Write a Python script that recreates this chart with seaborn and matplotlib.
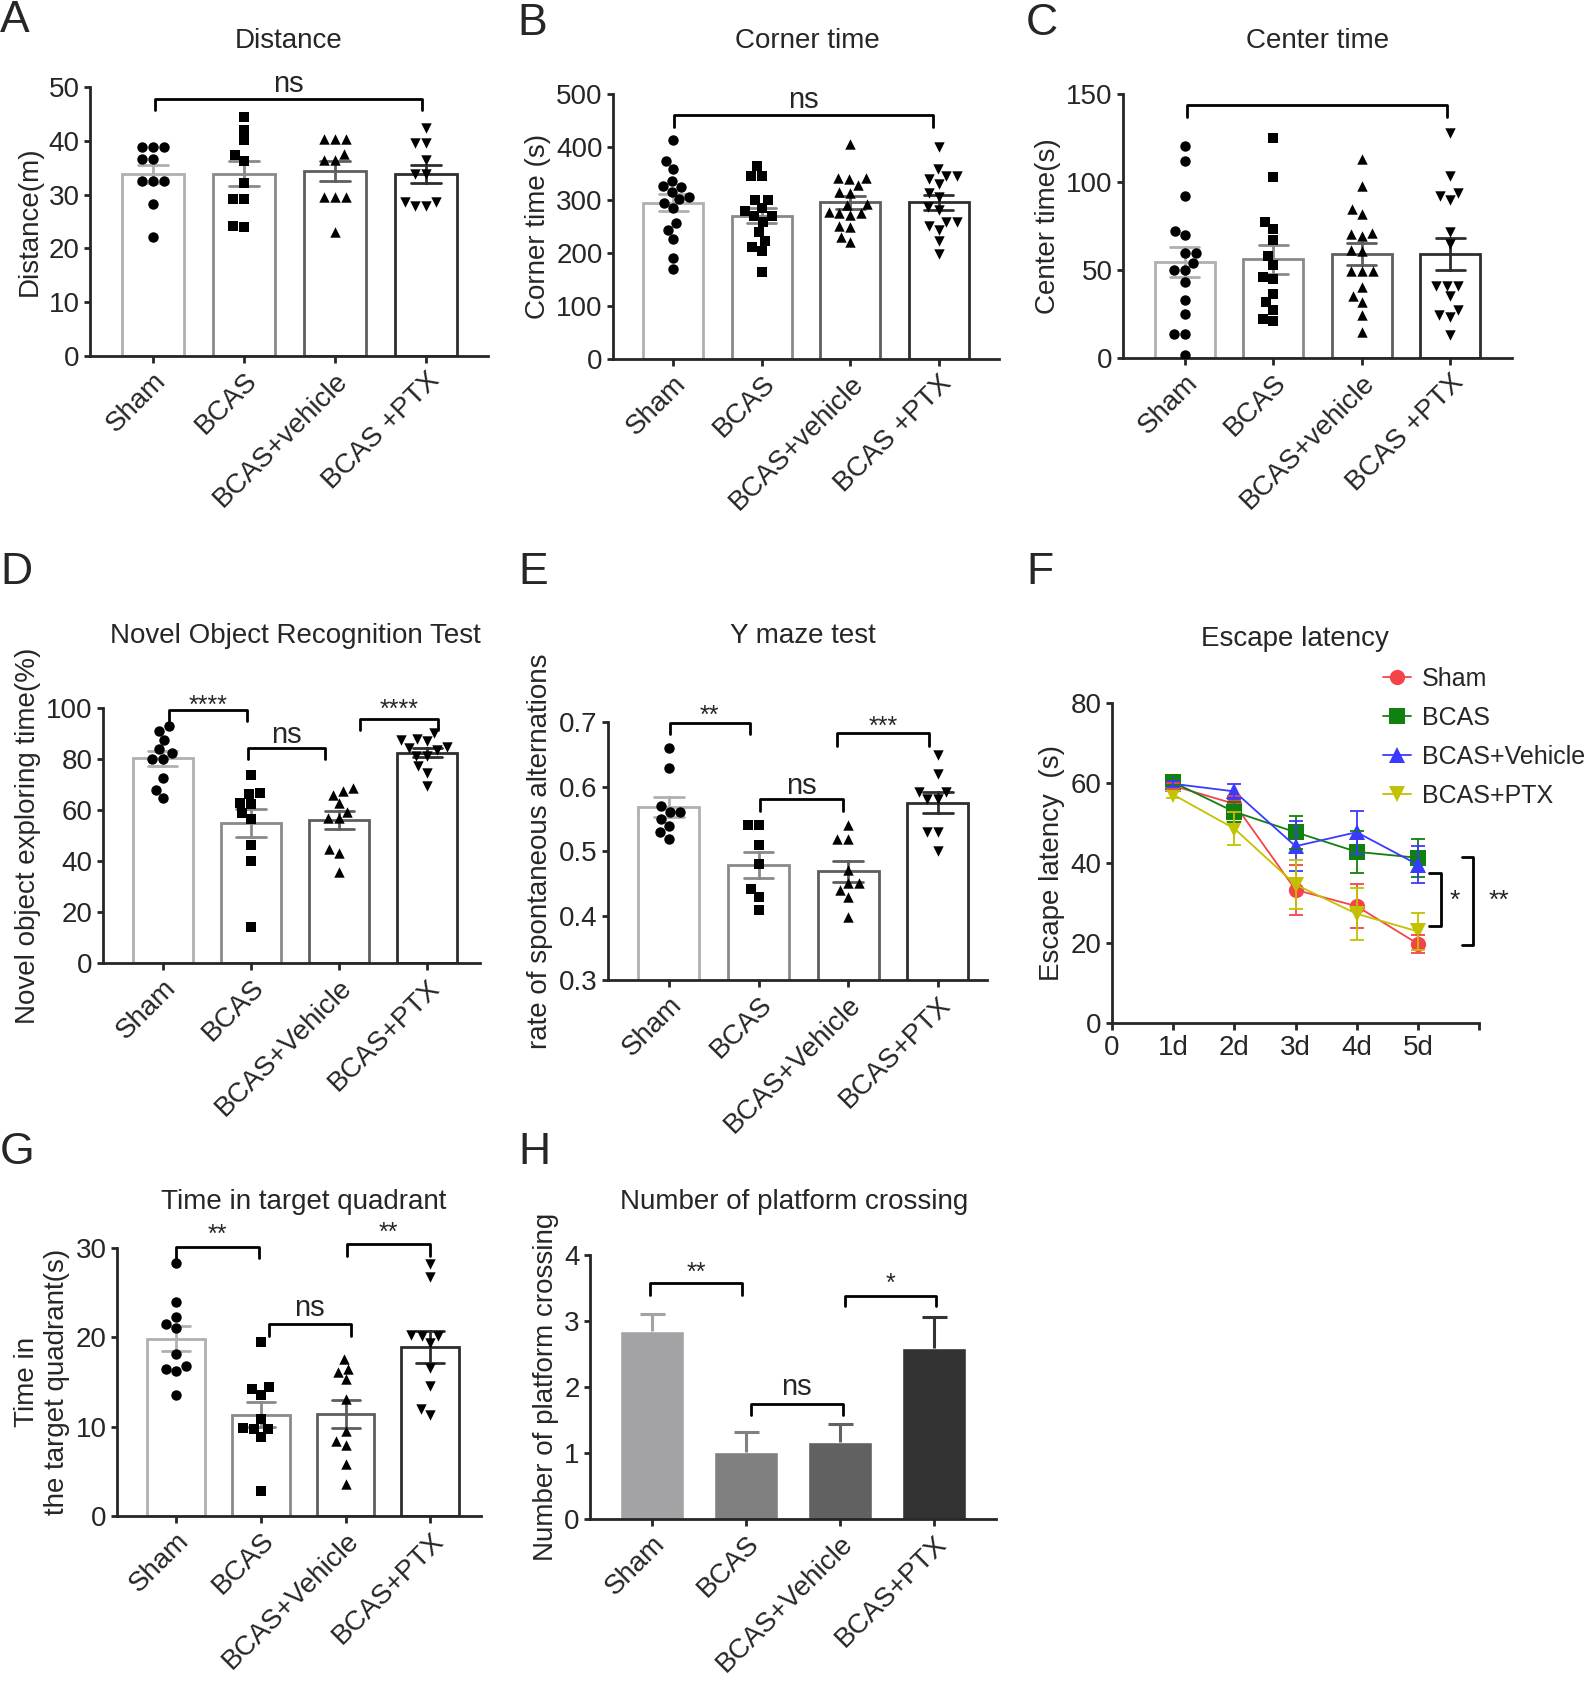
import numpy as np
import pandas as pd
import matplotlib
matplotlib.use("Agg")
import matplotlib.pyplot as plt
from matplotlib.lines import Line2D
import seaborn as sns

# ---- data ----
groups_abc = ["Sham", "BCAS", "BCAS+vehicle", "BCAS +PTX"]
groups = ["Sham", "BCAS", "BCAS+Vehicle", "BCAS+PTX"]

distance_sham = [38.9, 38.9, 38.9, 36.7, 36.7, 32.5, 32.5, 32.5, 28.3, 22.2]
distance_bcas = [44.4, 42.1, 40.1, 37.4, 36.2, 32.2, 29.1, 29.1, 24.0, 24.1]
distance_veh = [40.4, 40.4, 40.4, 37.6, 36.5, 36.5, 29.6, 29.6, 29.6, 23.0]
distance_ptx = [42.3, 39.5, 39.5, 36.4, 33.9, 33.9, 28.6, 27.8, 27.8, 28.6]

corner_sham = [413, 374, 359, 336, 327, 325, 316, 306, 301, 294, 284, 256, 243, 226, 190, 169]
corner_bcas = [364, 346, 346, 300, 300, 284, 279, 269, 269, 258, 240, 223, 212, 204, 165]
corner_veh = [406, 342, 339, 342, 328, 316, 314, 292, 291, 278, 275, 272, 275, 251, 250, 231, 220]
corner_ptx = [400, 358, 345, 345, 339, 330, 314, 306, 286, 281, 258, 258, 251, 243, 222, 198]

center_sham = [120.3, 112.1, 92.2, 72.3, 69.7, 59.7, 59.7, 54.0, 49.8, 49.8, 43.2, 33.1, 25.0, 13.6, 13.6, 1.5]
center_bcas = [125.0, 102.7, 77.1, 73.5, 67.2, 58.1, 53.0, 44.9, 46.0, 36.4, 31.6, 27.1, 22.3, 20.8]
center_veh = [113.3, 97.5, 84.7, 81.8, 71.0, 69.1, 70.6, 61.2, 61.0, 49.6, 49.2, 49.6, 40.2, 31.8, 35.0, 24.6, 14.6]
center_ptx = [127.8, 103.2, 91.9, 89.6, 93.8, 71.6, 65.0, 41.1, 35.4, 41.1, 41.1, 24.6, 23.3, 27.1, 13.3]

nor_sham = [92.8, 91.1, 87.5, 82.3, 83.9, 80.1, 80.1, 72.5, 67.9, 64.6]
nor_bcas = [73.8, 66.3, 66.8, 62.3, 62.9, 58.7, 56.4, 46.3, 40.0, 14.2]
nor_veh = [67.5, 68.8, 65.9, 62.6, 59.4, 57.0, 56.7, 44.6, 43.3, 35.8]
nor_ptx = [90.2, 87.3, 86.9, 87.9, 84.5, 81.3, 81.3, 83.4, 84.7, 77.1, 74.7, 69.5]

ymaze_sham = [0.659, 0.629, 0.570, 0.560, 0.560, 0.550, 0.539, 0.529, 0.519]
ymaze_bcas = [0.540, 0.540, 0.510, 0.480, 0.441, 0.429, 0.409]
ymaze_veh = [0.540, 0.518, 0.518, 0.470, 0.451, 0.451, 0.439, 0.429, 0.398]
ymaze_ptx = [0.649, 0.620, 0.592, 0.581, 0.581, 0.592, 0.530, 0.530, 0.500]

quad_sham = [28.3, 23.9, 21.5, 22.3, 21.1, 18.1, 16.5, 16.2, 16.8, 13.6]
quad_bcas = [19.5, 14.2, 14.4, 13.6, 10.9, 9.9, 9.7, 9.7, 8.8, 2.8]
quad_veh = [17.6, 16.1, 16.5, 15.3, 13.1, 9.5, 7.9, 8.4, 5.8, 3.6]
quad_ptx = [28.2, 26.7, 20.3, 20.2, 19.4, 20.2, 16.6, 14.6, 11.3, 12.0]

cross_mean = [2.85, 1.01, 1.17, 2.59]
cross_sem = [0.25, 0.31, 0.27, 0.47]

days = [1, 2, 3, 4, 5]
day_ticks = ["0", "1d", "2d", "3d", "4d", "5d", ""]
lat_groups = ["Sham", "BCAS", "BCAS+Vehicle", "BCAS+PTX"]
lat_sham = [59.3, 54.8, 33.3, 29.2, 19.8]
lat_sham_sem = [0.8, 2.0, 6.3, 5.5, 2.3]
lat_bcas = [60.2, 52.8, 47.7, 42.8, 41.3]
lat_bcas_sem = [0.8, 2.5, 4.1, 5.3, 4.7]
lat_veh = [59.8, 57.9, 44.2, 47.7, 39.6]
lat_veh_sem = [0.8, 1.9, 6.2, 5.4, 4.6]
lat_ptx = [57.1, 48.6, 34.6, 27.3, 22.9]
lat_ptx_sem = [0.8, 4.2, 6.2, 6.5, 4.6]

# ---- style ----
W, H = 1593, 1688
sns.set_style("ticks")
plt.rcParams["font.family"] = ["Liberation Sans", "DejaVu Sans"]
plt.rcParams["axes.linewidth"] = 2
plt.rcParams["xtick.major.width"] = 2
plt.rcParams["ytick.major.width"] = 2
plt.rcParams["xtick.major.size"] = 5
plt.rcParams["ytick.major.size"] = 4
plt.rcParams["xtick.labelsize"] = 20
plt.rcParams["ytick.labelsize"] = 20
plt.rcParams["axes.labelsize"] = 20

edge_greys = ["#b0b0b0", "#8a8a8a", "#5e5e5e", "#2e2e2e"]
fill_greys = ["#a3a3a6", "#808080", "#616161", "#333333"]
markers = ["o", "s", "^", "v"]
line_cols = ["#f5434a", "#10800f", "#3a3aff", "#c2c200"]
line_marks = ["o", "s", "^", "v"]

fig = plt.figure(figsize=(W / 100, H / 100), dpi=100)


def add_ax(l, t, r, b):
    return fig.add_axes([l / W, 1 - b / H, (r - l) / W, (b - t) / H])


def ftext(px, py, s, **kw):
    fig.text(px / W, 1 - py / H, s, **kw)


def style_x(ax, labels, xlim):
    ax.set_xlim(*xlim)
    ax.set_xticks(range(len(labels)))
    ax.set_xticklabels(labels, rotation=45, ha="right", va="top", rotation_mode="anchor")
    ax.set_xlabel("")
    sns.despine(ax=ax)


def scatter_bar(ax, values, labels):
    df = pd.DataFrame({"group": np.repeat(labels, [len(v) for v in values]),
                       "value": np.concatenate(values)})
    sns.barplot(data=df, x="group", y="value", hue="group", order=labels, hue_order=labels,
                palette=edge_greys, fill=False, errorbar="se", capsize=0.33, width=0.68,
                linewidth=2, err_kws={"linewidth": 2}, legend=False, ax=ax)
    for lab, vals, mk in zip(labels, values, markers):
        sns.swarmplot(x=[lab] * len(vals), y=vals, order=labels, marker=mk, color="black",
                      size=7.5, linewidth=0, ax=ax)


def bracket(ax, x1, x2, y, h, text=None, ty=None, fs=21):
    ax.plot([x1, x1, x2, x2], [y - h, y, y, y - h], color="black", lw=2, clip_on=False)
    if text:
        ax.text((x1 + x2) / 2, ty, text, ha="center", va="center", fontsize=fs)


# ---- A ----
ax = add_ax(90, 87, 488, 356)
scatter_bar(ax, [distance_sham, distance_bcas, distance_veh, distance_ptx], groups_abc)
ax.set_ylim(0, 50)
ax.set_yticks(range(0, 51, 10))
ax.set_ylabel("Distance(m)")
style_x(ax, groups_abc, (-0.69, 3.68))
bracket(ax, 0.02, 2.96, 47.8, 2.1, "ns", 50.6)

# ---- B ----
ax = add_ax(613, 94, 999, 359)
scatter_bar(ax, [corner_sham, corner_bcas, corner_veh, corner_ptx], groups_abc)
ax.set_ylim(0, 500)
ax.set_yticks(range(0, 501, 100))
ax.set_ylabel("Corner time (s)")
style_x(ax, groups_abc, (-0.68, 3.68))
bracket(ax, 0.01, 2.93, 461, 23, "ns", 489)

# ---- C ----
ax = add_ax(1123, 94, 1512, 358)
scatter_bar(ax, [center_sham, center_bcas, center_veh, center_ptx], groups_abc)
ax.set_ylim(0, 150)
ax.set_yticks([0, 50, 100, 150])
ax.set_ylabel("Center time(s)")
style_x(ax, groups_abc, (-0.70, 3.70))
bracket(ax, 0.02, 2.96, 144, 7)

# ---- D ----
ax = add_ax(103, 708, 480, 963)
scatter_bar(ax, [nor_sham, nor_bcas, nor_veh, nor_ptx], groups)
ax.set_ylim(0, 100)
ax.set_yticks(range(0, 101, 20))
ax.set_ylabel("Novel object exploring time(%)")
style_x(ax, groups, (-0.68, 3.6))
bracket(ax, 0.07, 0.95, 99.3, 4.5, "****", 100.8, fs=18)
bracket(ax, 0.97, 1.84, 84.5, 4.4, "ns", 89.5)
bracket(ax, 2.24, 3.12, 95.7, 4.5, "****", 99.4, fs=18)

# ---- E ----
ax = add_ax(608, 722, 987, 980)
scatter_bar(ax, [ymaze_sham, ymaze_bcas, ymaze_veh, ymaze_ptx], groups)
ax.set_ylim(0.3, 0.7)
ax.set_yticks([0.3, 0.4, 0.5, 0.6, 0.7])
ax.set_ylabel("rate of spontaneous alternations")
style_x(ax, groups, (-0.68, 3.55))
bracket(ax, 0.01, 0.90, 0.698, 0.017, "**", 0.709, fs=18)
bracket(ax, 1.02, 1.94, 0.580, 0.018, "ns", 0.6015)
bracket(ax, 1.88, 2.90, 0.683, 0.020, "***", 0.693, fs=18)

# ---- F ----
ax = add_ax(1112, 703, 1479, 1023)
lat_means = [lat_sham, lat_bcas, lat_veh, lat_ptx]
lat_sems = [lat_sham_sem, lat_bcas_sem, lat_veh_sem, lat_ptx_sem]
df_lat = pd.DataFrame({"day": np.tile(days, 4),
                       "latency": np.concatenate(lat_means),
                       "group": np.repeat(lat_groups, len(days))})
sns.lineplot(data=df_lat, x="day", y="latency", hue="group", style="group",
             hue_order=lat_groups, palette=line_cols, markers=dict(zip(lat_groups, line_marks)),
             dashes=False, markersize=11, markeredgewidth=0, linewidth=1.3, legend=False, ax=ax)
for m, s, c in zip(lat_means, lat_sems, line_cols):
    ax.errorbar(days, m, yerr=s, fmt="none", ecolor=c, elinewidth=1.3, capsize=5, capthick=1.3)
ax.set_xlim(0, 6)
ax.set_ylim(0, 80)
ax.set_xticks(range(0, 7))
ax.set_xticklabels(day_ticks)
ax.set_yticks(range(0, 81, 20))
ax.set_xlabel("")
ax.set_ylabel("Escape latency  (s)")
sns.despine(ax=ax)
ax.plot([5.19, 5.38, 5.38, 5.19], [37.5, 37.5, 24.3, 24.3], color="black", lw=2, clip_on=False)
ax.plot([5.73, 5.91, 5.91, 5.73], [41.5, 41.5, 19.6, 19.6], color="black", lw=2, clip_on=False)
ax.text(5.6, 30.6, "*", ha="center", va="center", fontsize=19, clip_on=False)
ax.text(6.33, 30.6, "**", ha="center", va="center", fontsize=19, clip_on=False)
handles = [Line2D([0], [0], color=c, marker=mk, markersize=11, markeredgewidth=0, lw=1.3)
           for c, mk in zip(line_cols, line_marks)]
fig.legend(handles, lat_groups, loc="upper left", bbox_to_anchor=(1383 / W, 1 - 667 / H),
           frameon=False, fontsize=18, handlelength=1.1, handletextpad=0.45,
           labelspacing=0.6, borderpad=0, borderaxespad=0)

# ---- G ----
ax = add_ax(117, 1248, 481, 1516)
scatter_bar(ax, [quad_sham, quad_bcas, quad_veh, quad_ptx], groups)
ax.set_ylim(0, 30)
ax.set_yticks([0, 10, 20, 30])
ax.set_ylabel("Time in\nthe target quadrant(s)")
style_x(ax, groups, (-0.70, 3.6))
bracket(ax, 0.0, 0.98, 30.1, 1.2, "**", 31.5, fs=18)
bracket(ax, 1.09, 2.06, 21.5, 1.3, "ns", 23.3)
bracket(ax, 2.02, 3.0, 30.4, 1.3, "**", 31.7, fs=18)

# ---- H ----
ax = add_ax(590, 1255, 996, 1519)
sns.barplot(x=groups, y=cross_mean, hue=groups, order=groups, hue_order=groups,
            palette=fill_greys, saturation=1, width=0.68, errorbar=None, legend=False, ax=ax)
for i, (m, s, c) in enumerate(zip(cross_mean, cross_sem, fill_greys)):
    eb = ax.errorbar(i, m, yerr=[[0], [s]], fmt="none", ecolor=c, elinewidth=2.2,
                     capsize=9, capthick=2.2)
    for cap in eb[1]:
        if abs(cap.get_ydata()[0] - m) < 1e-9:
            cap.set_visible(False)
ax.set_ylim(0, 4)
ax.set_yticks(range(0, 5))
ax.set_ylabel("Number of platform crossing")
style_x(ax, groups, (-0.66, 3.66))
bracket(ax, -0.02, 0.96, 3.57, 0.18, "**", 3.73, fs=18)
bracket(ax, 1.05, 2.03, 1.75, 0.18, "ns", 2.0)
bracket(ax, 2.05, 3.02, 3.38, 0.15, "*", 3.56, fs=18)

# ---- titles and panel letters ----
titles = [(289, 41, "Distance"), (807, 41, "Corner time"), (1318, 41, "Center time"),
          (295, 636, "Novel Object Recognition Test"), (803, 636, "Y maze test"),
          (1295, 639, "Escape latency"), (304, 1202, "Time in target quadrant"),
          (794, 1202, "Number of platform crossing")]
for px, py, s in titles:
    ftext(px, py, s, ha="center", va="center", fontsize=20)

letters = [(0, 0, "A"), (517, 3, "B"), (1026, 3, "C"), (0, 552, "D"), (518, 552, "E"),
           (1026, 552, "F"), (0, 1132, "G"), (518, 1132, "H")]
for px, py, s in letters:
    ftext(px, py, s, ha="left", va="top", fontsize=32)

fig.savefig("out.png", dpi=100)
